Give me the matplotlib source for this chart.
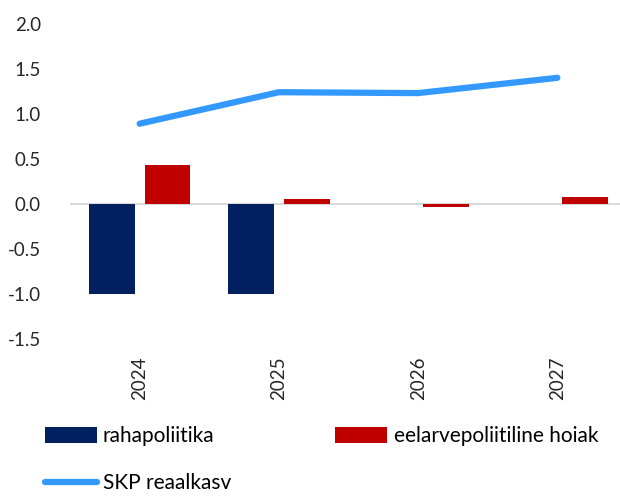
import matplotlib.pyplot as plt
import numpy as np

plt.rcParams['font.family'] = ['Lato', 'DejaVu Sans']

# data
years = ['2024', '2025', '2026', '2027']
rahapoliitika = [-1.0, -1.0, 0.0, 0.0]
eelarve = [0.43, 0.05, -0.04, 0.07]
skp = [0.89, 1.24, 1.23, 1.40]

navy = '#002060'
red = '#c00000'
blue = '#3399ff'

fig = plt.figure(figsize=(6.2, 4.96), dpi=100)
ax = fig.add_axes([0.113, 0.317, 0.887, 0.635])

x = np.arange(len(years))
w = 0.33
b1 = ax.bar(x - 0.2, rahapoliitika, w, color=navy, label='rahapoliitika', zorder=2)
b2 = ax.bar(x + 0.2, eelarve, w, color=red, label='eelarvepoliitiline hoiak', zorder=2)
l1, = ax.plot(x, skp, color=blue, lw=4.5, solid_capstyle='round', label='SKP reaalkasv', zorder=3)

ax.axhline(0, color='#d9d9d9', lw=1.5, zorder=1)
ax.set_ylim(-1.5, 2.0)
ax.set_xlim(-0.5, 3.45)
ax.set_yticks(np.arange(-1.5, 2.01, 0.5))
ax.set_yticklabels([f'{v:.1f}' for v in np.arange(-1.5, 2.01, 0.5)])
ax.set_xticks(x)
ax.set_xticklabels(years, rotation=90)
ax.tick_params(axis='both', length=0, labelsize=13.5, colors='#262626')
ax.tick_params(axis='x', pad=13)
ax.tick_params(axis='y', pad=21)
for s in ax.spines.values():
    s.set_visible(False)

# legend fills column by column, so order as (col1 row1, col1 row2, col2 row1)
fig.legend([b1, l1, b2], ['rahapoliitika', 'SKP reaalkasv', 'eelarvepoliitiline hoiak'],
           loc='upper left', bbox_to_anchor=(0.072, 0.141), ncol=2, frameon=False,
           fontsize=15, handlelength=2.5, handleheight=0.8, handletextpad=0.3,
           columnspacing=5.0, labelspacing=1.3, borderaxespad=0, borderpad=0)

fig.savefig('out.png', dpi=100)
